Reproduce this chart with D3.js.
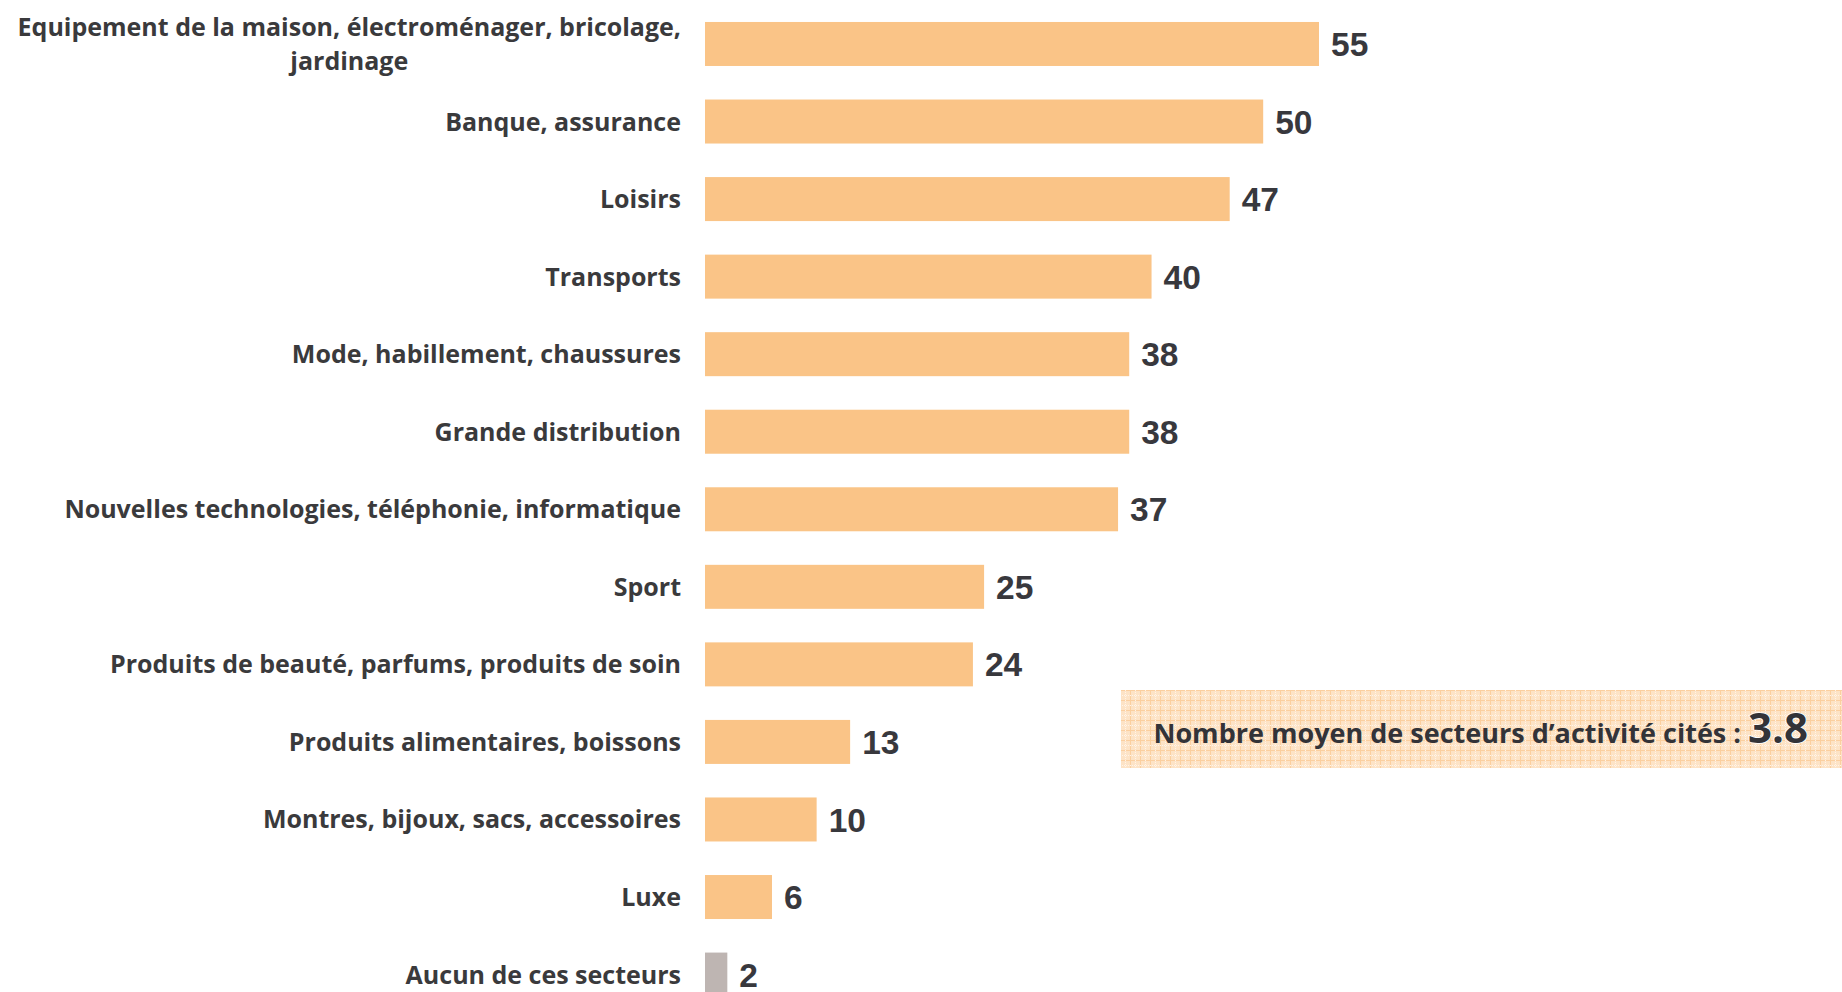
<!DOCTYPE html>
<html lang="fr">
  <head>
    <meta charset="utf-8">
    <title>Secteurs d'activité cités</title>
    <style>
     html, body { margin: 0; padding: 0; background: #fff; overflow: hidden; }
     .cat { font-family: "Open Sans", sans-serif; font-weight: 700; font-size: 25px; fill: #3a3a3c; }
     .val { font-family: "Liberation Sans", Arial, sans-serif; font-weight: 700; font-size: 33.5px; fill: #38383d; }
     .note { font-family: "Open Sans", sans-serif; font-weight: 700; fill: #333338; }
    </style>
  </head>
  <body>
    <div id="plot"></div>
  </body>
  <script src="https://d3js.org/d3.v7.min.js"></script>
  <script>
   // data
   var categories = [
     "Equipement de la maison, électroménager, bricolage,|jardinage",
     "Banque, assurance",
     "Loisirs",
     "Transports",
     "Mode, habillement, chaussures",
     "Grande distribution",
     "Nouvelles technologies, téléphonie, informatique",
     "Sport",
     "Produits de beauté, parfums, produits de soin",
     "Produits alimentaires, boissons",
     "Montres, bijoux, sacs, accessoires",
     "Luxe",
     "Aucun de ces secteurs"
   ];
   var values = [55, 50, 47, 40, 38, 38, 37, 25, 24, 13, 10, 6, 2];
   var noneCategory = "Aucun de ces secteurs";
   var noteText = "Nombre moyen de secteurs d\u2019activité cités : ";
   var noteValue = "3.8";

   var width = 1842, height = 992;

   var svg = d3.select("#plot").append("svg")
               .attr("width", width)
               .attr("height", height);

   // grid paper pattern for the note box
   var defs = svg.append("defs");
   var pat = defs.append("pattern")
                 .attr("id", "grid")
                 .attr("patternUnits", "userSpaceOnUse")
                 .attr("width", 10).attr("height", 10);
   pat.append("rect").attr("width", 10).attr("height", 10).attr("fill", "#fde3c6");
   pat.append("path").attr("d", "M0,0.5H10M0.5,0V10")
      .attr("stroke", "#fbcf9f").attr("stroke-width", 1).attr("fill", "none");
   pat.append("path").attr("d", "M0,5.5H10M5.5,0V10")
      .attr("stroke", "#fff4e8").attr("stroke-width", 1)
      .attr("stroke-dasharray", "1,1").attr("fill", "none");

   var x = d3.scaleLinear().domain([0, 55]).range([705, 1319]);
   var y = d3.scaleBand()
             .domain(categories)
             .range([5.2, 5.2 + 13 * 77.55])
             .paddingInner(0.4326)
             .paddingOuter(0.2163);

   var rows = svg.append("g").selectAll("g")
                 .data(categories)
                 .join("g");

   rows.append("rect")
       .attr("x", x(0))
       .attr("y", function(d) { return y(d); })
       .attr("width", function(d, i) { return x(values[i]) - x(0); })
       .attr("height", y.bandwidth())
       .attr("fill", function(d) { return d === noneCategory ? "#beb5b2" : "#fac487"; });

   rows.append("text")
       .attr("class", "val")
       .attr("x", function(d, i) { return x(values[i]) + 12; })
       .attr("y", function(d) { return y(d) + y.bandwidth() / 2; })
       .attr("dy", "0.36em")
       .text(function(d, i) { return values[i]; });

   // category labels, right aligned block, multi line centred
   var labelRight = 681, lineH = 34;
   rows.each(function(d) {
     var lines = d.split("|");
     var g = d3.select(this).append("g");
     var t = g.selectAll("text").data(lines).join("text")
              .attr("class", "cat")
              .attr("y", function(l, j) {
                return y(d) + y.bandwidth() / 2 + (j - (lines.length - 1) / 2) * lineH;
              })
              .attr("dy", "0.36em")
              .text(function(l) { return l; });
     var maxW = 0;
     t.each(function() { maxW = Math.max(maxW, this.getComputedTextLength()); });
     t.attr("text-anchor", "middle").attr("x", labelRight - maxW / 2);
   });

   // note box
   svg.append("rect")
      .attr("x", 1121).attr("y", 690)
      .attr("width", width - 1121).attr("height", 78)
      .attr("fill", "url(#grid)");
   var note = svg.append("text")
                 .attr("class", "note")
                 .attr("x", 1808).attr("y", 743)
                 .attr("text-anchor", "end");
   note.append("tspan").attr("font-size", "27px").text(noteText);
   note.append("tspan").attr("font-size", "42px")
       .style("paint-order", "stroke").attr("stroke", "#fff").attr("stroke-width", 1.5)
       .text(noteValue);
  </script>
</html>
